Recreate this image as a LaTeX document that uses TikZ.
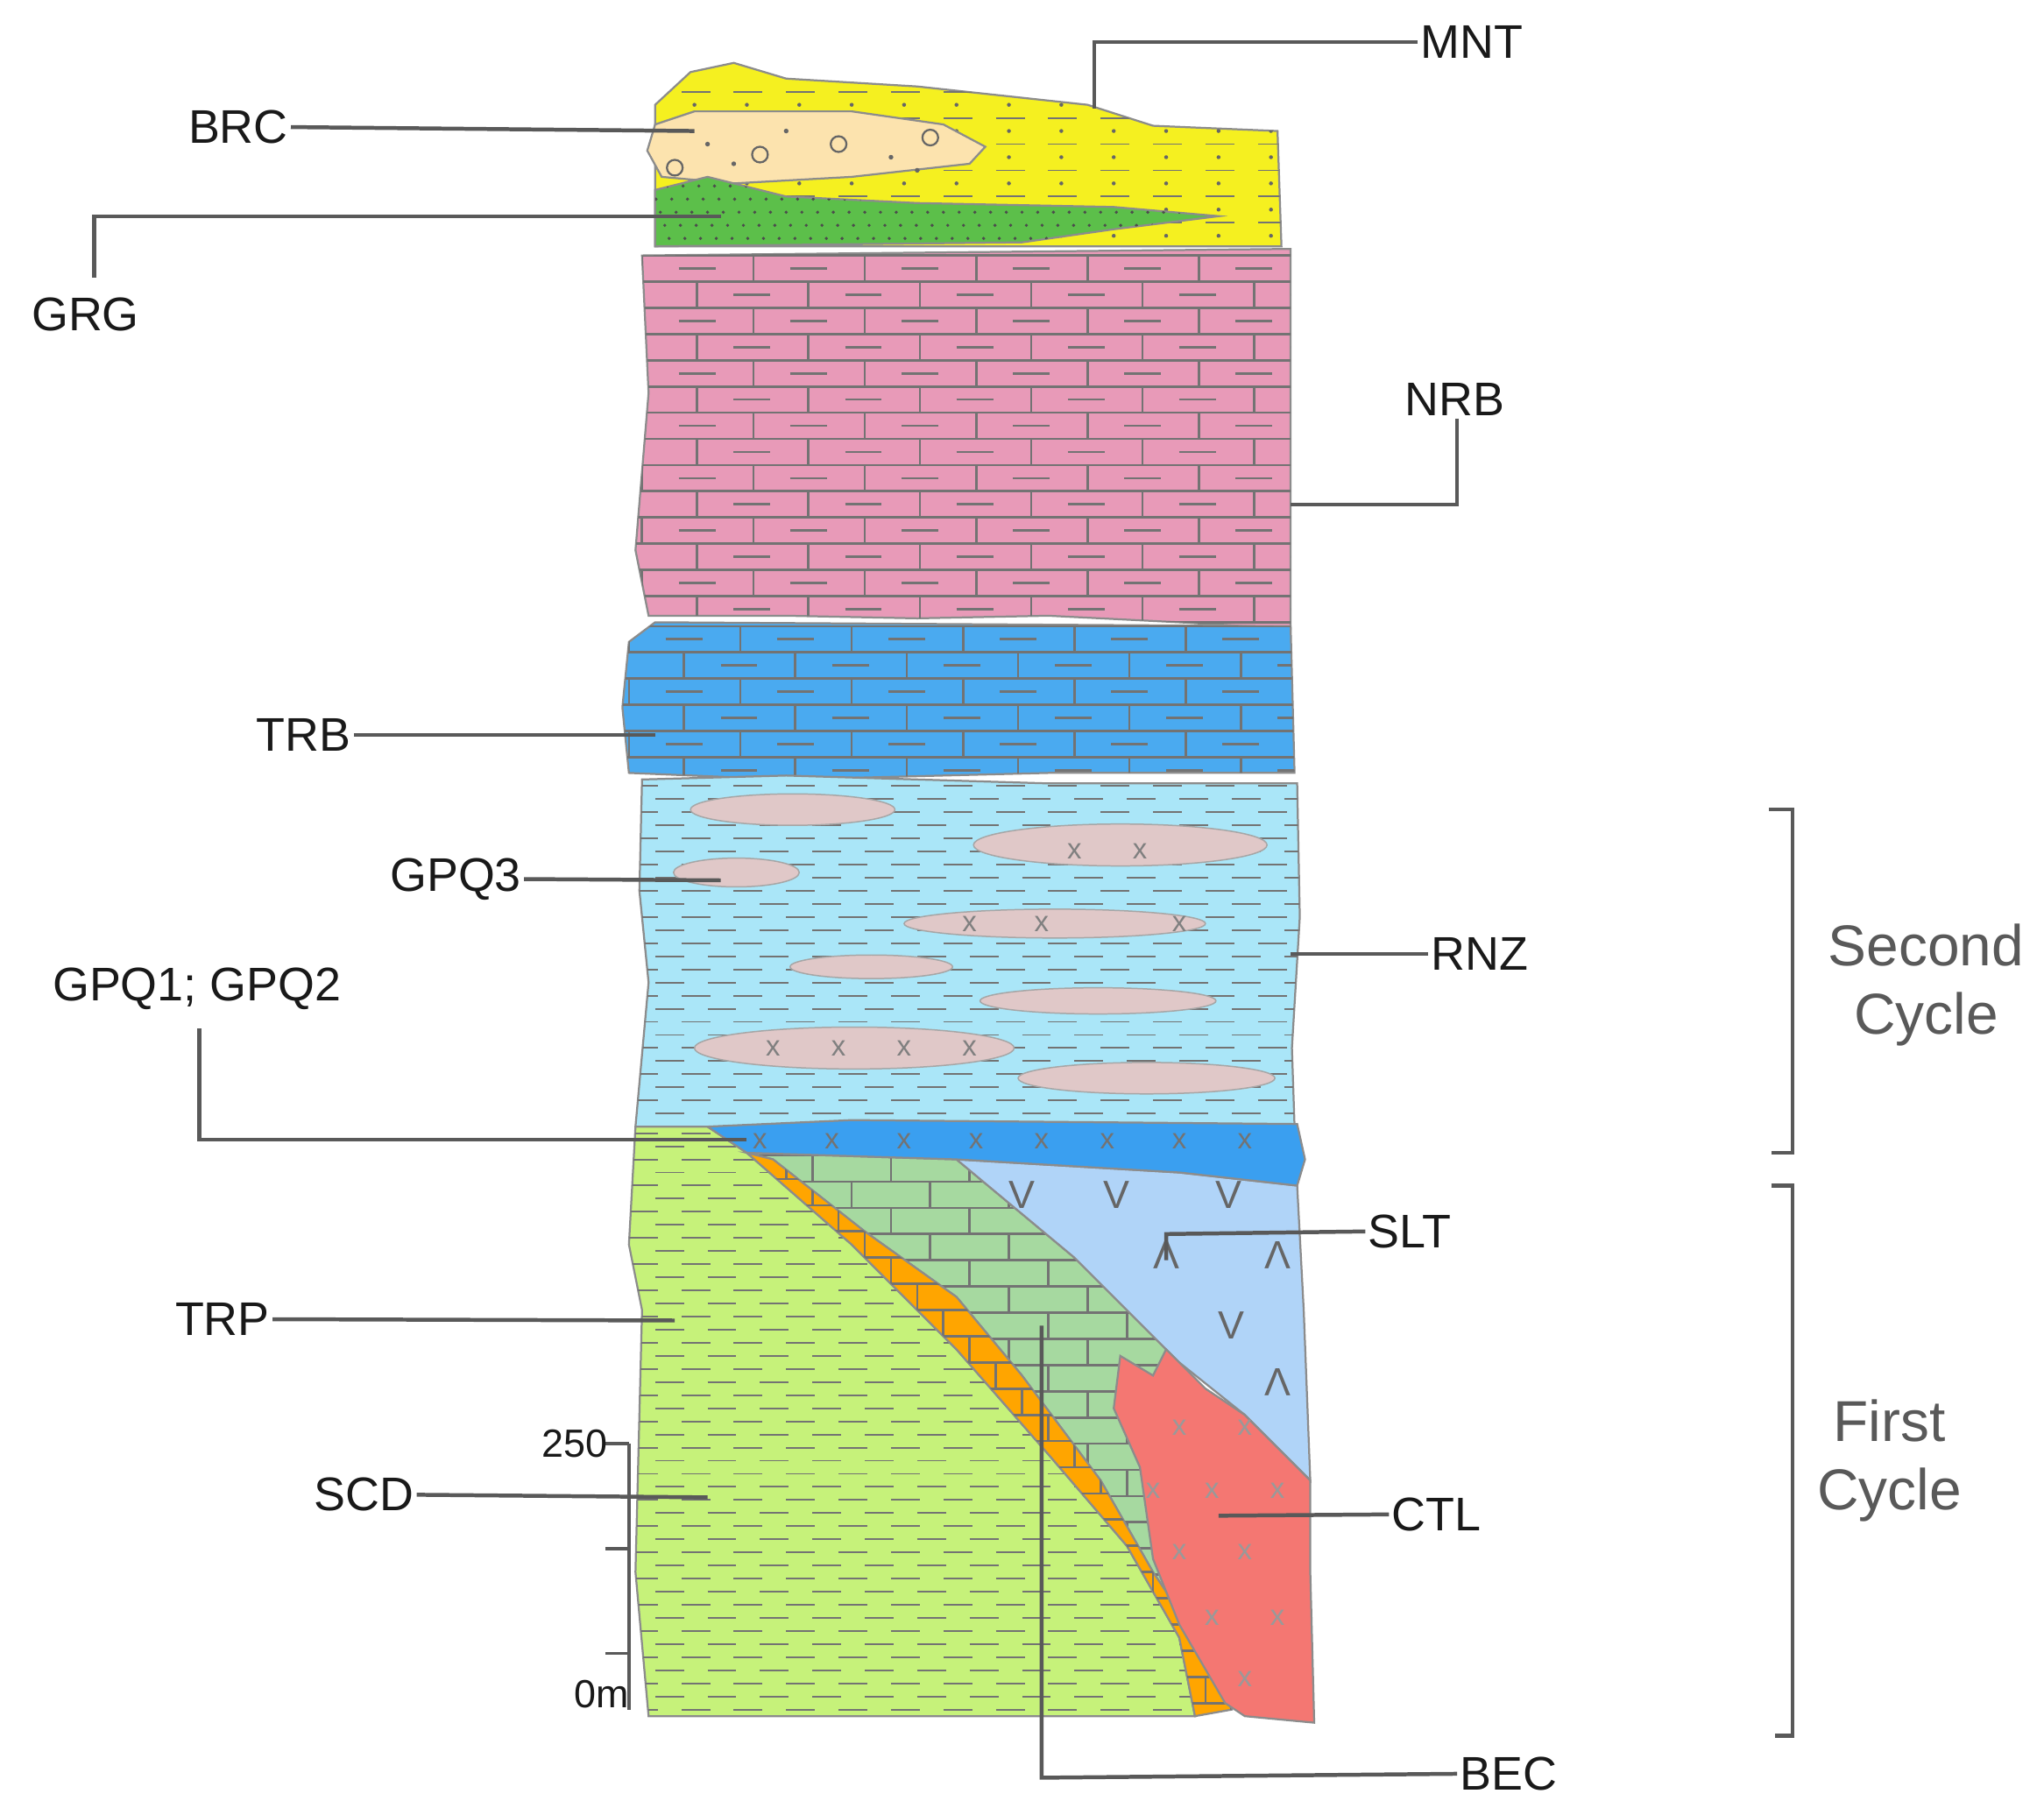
\documentclass[tikz,border=0pt]{standalone}
\usepackage{fontspec}
\setmainfont{Liberation Sans}
\begin{document}
\begin{tikzpicture}[x=1pt,y=-1pt,
  lbl/.style={font=\fontsize{36}{40}\selectfont,inner sep=2pt,text=black!90},
  cyc/.style={font=\fontsize{44}{52}\selectfont,align=center,text=black!65},
  lead/.style={draw=black!65,line width=3pt},
  unit/.style={draw=black!45,line width=1.5pt},
  pat/.style={draw=black!55,line width=1.8pt},
  mk/.style={text=black!50,font=\fontsize{22}{22}\selectfont,inner sep=0pt},
  vv/.style={text=black!60,font=\fontsize{30}{30}\selectfont,inner sep=0pt}]
\definecolor{cMNT}{HTML}{F5F020}\definecolor{cBRC}{HTML}{FCE3AE}
\definecolor{cGRG}{HTML}{5CBF4A}\definecolor{cNRB}{HTML}{E89AB8}
\definecolor{cTRB}{HTML}{4AAAF0}\definecolor{cRNZ}{HTML}{AAE6F8}
\definecolor{cLEN}{HTML}{E0C8C8}\definecolor{cGPQ}{HTML}{3A9FF0}
\definecolor{cSCD}{HTML}{C6F27A}\definecolor{cTRP}{HTML}{FFA500}
\definecolor{cBEC}{HTML}{A6D9A0}\definecolor{cSLT}{HTML}{B0D4F8}
\definecolor{cCTL}{HTML}{F47772}
\fill[white] (0,0) rectangle (1560,1385);
\useasboundingbox (0,0) rectangle (1560,1385);
% MNT
\def\mnt{(527,55)--(560,48)--(600,60)--(700,66)--(830,80)--(880,96)--(975,100)--(978,188)--(500,188)--(500,80)--cycle}
\path[unit,fill=cMNT] \mnt;
\begin{scope}\clip \mnt;
\foreach \y in {70,90,...,190}{\foreach \x in {520,560,...,980}{\draw[pat,line width=1.2pt] (\x,\y)--(\x+22,\y);\fill[black!60] (\x+10,\y+10) circle (1.5);}}
\end{scope}
% BRC
\path[unit,fill=cBRC] (500,95)--(530,85)--(650,85)--(720,95)--(752,112)--(740,125)--(650,135)--(560,140)--(505,135)--(494,115)--cycle;
\foreach \x/\y in {515/128,580/118,710/105,640/110}{\draw[black!60,line width=1.5pt] (\x,\y) circle (6);}
\foreach \x/\y in {540/110,600/100,680/120,560/125,700/130}{\fill[black!60] (\x,\y) circle (1.8);}
% GRG
\def\grg{(500,145)--(540,135)--(600,150)--(700,155)--(850,158)--(930,165)--(850,175)--(780,185)--(500,188)--cycle}
\path[unit,fill=cGRG] \grg;
\begin{scope}\clip \grg;
\foreach \y in {142,152,...,190}{\foreach \x in {500,512,...,940}{\fill[black!70] (\x+\y/3-50,\y) circle (1.3);}}
\end{scope}
% NRB
\def\nrb{(490,195)--(985,190)--(985,480)--(900,475)--(800,470)--(700,472)--(600,470)--(495,470)--(485,420)--(495,300)--(490,195)--cycle}
\path[unit,fill=cNRB] \nrb;
\begin{scope}\clip \nrb;
\foreach \i in {0,...,14}{\pgfmathsetmacro\y{195+20*\i}\draw[pat] (480,\y)--(1000,\y);
 \pgfmathsetmacro\o{mod(\i,2)*42}
 \foreach \x in {490,575,...,1000}{\draw[pat] (\x+\o,\y)--(\x+\o,\y+20);\draw[pat] (\x+\o+28,\y+10)--(\x+\o+56,\y+10);}}
\end{scope}
% TRB
\def\trb{(480,490)--(500,475)--(985,478)--(988,590)--(800,590)--(600,595)--(480,590)--(475,540)--cycle}
\path[unit,fill=cTRB] \trb;
\begin{scope}\clip \trb;
\foreach \i in {0,...,5}{\pgfmathsetmacro\y{478+20*\i}\draw[pat] (470,\y)--(1000,\y);
 \pgfmathsetmacro\o{mod(\i,2)*42}
 \foreach \x in {480,565,...,1000}{\draw[pat] (\x+\o,\y)--(\x+\o,\y+20);\draw[pat] (\x+\o+28,\y+10)--(\x+\o+56,\y+10);}}
\end{scope}
% RNZ
\def\rnz{(490,595)--(600,592)--(800,598)--(990,598)--(992,700)--(986,800)--(988,860)--(485,860)--(495,750)--(488,680)--cycle}
\path[unit,fill=cRNZ] \rnz;
\begin{scope}\clip \rnz;
\foreach \i in {0,...,26}{\pgfmathsetmacro\y{600+10*\i}\pgfmathsetmacro\o{mod(\i,2)*20}
 \foreach \x in {480,520,...,1000}{\draw[pat,line width=1.3pt] (\x+\o,\y)--(\x+\o+22,\y);}}
\end{scope}
% lenses
\foreach \cx/\cy/\rx/\ry in {605/618/78/12, 855/645/112/16, 562/666/48/11, 805/705/115/11, 665/738/62/9, 838/764/90/10, 652/800/122/16, 875/823/98/12}{
 \path[draw=black!35,line width=1pt,fill=cLEN] (\cx,\cy) ellipse [x radius=\rx,y radius=\ry];}
\foreach \x/\y in {820/650, 870/650, 740/705, 795/705, 900/705, 590/800, 640/800, 690/800, 740/800}{\node[mk] at (\x,\y) {x};}
% SCD
\def\scd{(485,860)--(540,860)--(570,880)--(650,950)--(730,1030)--(800,1110)--(860,1180)--(900,1250)--(912,1310)--(495,1310)--(485,1200)--(490,1000)--(480,950)--cycle}
\path[unit,fill=cSCD] \scd;
\begin{scope}\clip \scd;
\foreach \i in {0,...,45}{\pgfmathsetmacro\y{865+10*\i}\pgfmathsetmacro\o{mod(\i,2)*20}
 \foreach \x in {480,520,...,960}{\draw[pat,line width=1.3pt] (\x+\o,\y)--(\x+\o+22,\y);}}
\end{scope}
% BEC
\def\bec{(570,880)--(730,885)--(820,960)--(900,1040)--(920,1100)--(900,1200)--(940,1305)--(920,1260)--(880,1200)--(840,1130)--(780,1050)--(730,990)--(660,940)--(590,885)--cycle}
\path[unit,fill=cBEC] \bec;
\begin{scope}\clip \bec;
\foreach \i in {0,...,22}{\pgfmathsetmacro\y{882+20*\i}\draw[pat] (560,\y)--(950,\y);
 \pgfmathsetmacro\o{mod(\i,2)*30}
 \foreach \x in {560,620,...,950}{\draw[pat] (\x+\o,\y)--(\x+\o,\y+20);}}
\end{scope}
% TRP
\def\trp{(570,880)--(590,885)--(660,940)--(730,990)--(780,1050)--(840,1130)--(880,1200)--(920,1260)--(940,1305)--(912,1310)--(900,1250)--(860,1180)--(800,1110)--(730,1030)--(650,950)--cycle}
\path[unit,fill=cTRP] \trp;
\begin{scope}\clip \trp;
\foreach \i in {0,...,22}{\pgfmathsetmacro\y{880+20*\i}\draw[pat] (560,\y)--(950,\y);
 \pgfmathsetmacro\o{mod(\i,2)*20}
 \foreach \x in {560,600,...,950}{\draw[pat] (\x+\o,\y)--(\x+\o,\y+20);}}
\end{scope}
% SLT
\path[unit,fill=cSLT] (730,885)--(900,895)--(990,905)--(995,1000)--(1000,1130)--(950,1080)--(900,1040)--(820,960)--cycle;
\foreach \x/\y in {780/912, 852/912, 938/912, 940/1012}{\node[vv] at (\x,\y) {V};}
\foreach \x/\y in {890/958, 975/958, 975/1055}{\node[vv,yscale=-1] at (\x,\y) {V};}
% CTL
\path[unit,fill=cCTL] (855,1035)--(880,1050)--(890,1030)--(920,1060)--(950,1080)--(1000,1130)--(1000,1200)--(1003,1315)--(950,1310)--(935,1300)--(900,1240)--(880,1190)--(870,1120)--(850,1075)--cycle;
\foreach \x/\y in {900/1090, 950/1090, 880/1138, 925/1138, 975/1138, 900/1185, 950/1185, 925/1235, 975/1235, 950/1282}{\node[mk,text=black!40] at (\x,\y) {x};}
% GPQ band
\path[unit,fill=cGPQ] (540,860)--(650,855)--(990,858)--(996,885)--(990,905)--(900,895)--(730,885)--(570,880)--cycle;
\foreach \x in {580,635,690,745,795,845,900,950}{\node[mk,text=black!55] at (\x,871) {x};}
% labels
\node[lbl,anchor=west] (MNT) at (1082,32) {MNT};
\draw[lead] (MNT.west)--(835,32)--(835,83);
\node[lbl,anchor=east] (BRC) at (222,97) {BRC};
\draw[lead] (BRC.east)--(530,100);
\node[lbl,anchor=west] (GRG) at (22,240) {GRG};
\draw[lead] (72,212)--(72,165)--(550,165);
\node[lbl,anchor=west] (NRB) at (1070,305) {NRB};
\draw[lead] (NRB.south-|1112,0)--(1112,385)--(985,385);
\node[lbl,anchor=east] (TRB) at (270,561) {TRB};
\draw[lead] (TRB.east)--(500,561);
\node[lbl,anchor=east] (GPQ3) at (400,671) {GPQ3};
\draw[lead] (GPQ3.east)--(550,672);
\node[lbl,anchor=west] (RNZ) at (1090,728) {RNZ};
\draw[lead] (RNZ.west)--(985,728);
\node[lbl,anchor=west] (GPQ) at (38,755) {GPQ1; GPQ2};
\draw[lead] (152,785)--(152,870)--(570,870);
\node[lbl,anchor=west] (SLT) at (1042,940) {SLT};
\draw[lead] (SLT.west)--(890,942)--(890,962);
\node[lbl,anchor=east] (TRP) at (208,1007) {TRP};
\draw[lead] (TRP.east)--(515,1008);
\node[lbl,anchor=east] (SCD) at (318,1141) {SCD};
\draw[lead] (SCD.east)--(540,1143);
\node[lbl,anchor=west] (CTL) at (1060,1156) {CTL};
\draw[lead] (CTL.west)--(930,1157);
\node[lbl,anchor=west] (BEC) at (1112,1354) {BEC};
\draw[lead] (BEC.west)--(795,1357)--(795,1012);
% scale
\draw[lead,line width=2.5pt] (480,1102)--(480,1305);
\foreach \y in {1102,1182,1262}{\draw[lead,line width=2.5pt] (462,\y)--(480,\y);}
\node[lbl,anchor=east,font=\fontsize{30}{34}\selectfont] (s250) at (466,1102) {250};
\node[lbl,anchor=east,font=\fontsize{30}{34}\selectfont] (s0) at (482,1293) {0m};
% brackets
\draw[lead] (1350,618)--(1368,618)--(1368,880)--(1352,880);
\node[cyc] (SC) at (1470,752) {Second\\Cycle};
\draw[lead] (1352,905)--(1368,905)--(1368,1325)--(1355,1325);
\node[cyc] (FC) at (1442,1115) {First\\Cycle};
\end{tikzpicture}
\end{document}
